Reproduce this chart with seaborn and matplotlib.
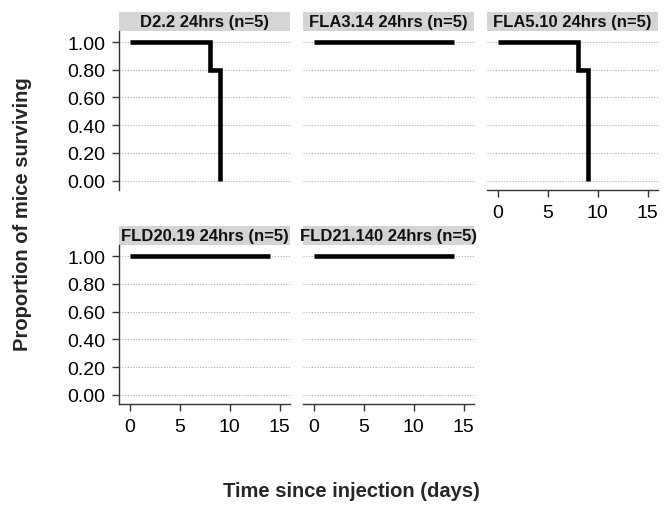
import numpy as np
import pandas as pd
import matplotlib
matplotlib.use("Agg")
import matplotlib.pyplot as plt
import seaborn as sns
from matplotlib.patches import Rectangle

# ---- data ----
panels = ["D2.2 24hrs (n=5)", "FLA3.14 24hrs (n=5)", "FLA5.10 24hrs (n=5)",
          "FLD20.19 24hrs (n=5)", "FLD21.140 24hrs (n=5)"]
d22_days = [0, 8, 9]
d22_surv = [1.0, 0.8, 0.0]
fla314_days = [0, 14]
fla314_surv = [1.0, 1.0]
fla510_days = [0, 8, 9]
fla510_surv = [1.0, 0.8, 0.0]
fld2019_days = [0, 14]
fld2019_surv = [1.0, 1.0]
fld21140_days = [0, 14]
fld21140_surv = [1.0, 1.0]
y_ticks = [0.0, 0.2, 0.4, 0.6, 0.8, 1.0]
y_ticklabels = ["0.00", "0.20", "0.40", "0.60", "0.80", "1.00"]
x_ticks = [0, 5, 10, 15]

series = [(d22_days, d22_surv), (fla314_days, fla314_surv), (fla510_days, fla510_surv),
          (fld2019_days, fld2019_surv), (fld21140_days, fld21140_surv)]
rows = []
for name, (days, surv) in zip(panels, series):
    for d, s in zip(days, surv):
        rows.append({"panel": name, "day": d, "surv": s})
df = pd.DataFrame(rows)

sns.set_theme(style="white")
plt.rcParams["font.family"] = ["Liberation Sans", "DejaVu Sans"]

g = sns.FacetGrid(df, col="panel", col_wrap=3, col_order=panels,
                  sharex=True, sharey=True, height=2, aspect=1, despine=False)
g.map_dataframe(sns.lineplot, x="day", y="surv", color="black", linewidth=3.3,
                drawstyle="steps-post", estimator=None, solid_capstyle="butt",
                solid_joinstyle="miter")

fig = g.figure
fig.set_size_inches(6.69, 5.06)
fig.subplots_adjust(left=0.178, right=0.9836, top=0.9368, bottom=0.2,
                    wspace=0.076, hspace=0.35)
g.set_titles("")
g.set_axis_labels("", "")

axes = g.axes.flatten()
for i, ax in enumerate(axes):
    ax.set_xlim(-1.05, 16.05)
    ax.set_ylim(-0.065, 1.08)
    for y in y_ticks:
        ax.axhline(y, color="#b0b0b0", linestyle=(0, (1, 1.5)), linewidth=0.8, zorder=0)
    ax.set_yticks(y_ticks)
    ax.set_xticks(x_ticks)
    for sp in ["top", "right"]:
        ax.spines[sp].set_visible(False)
    left = i in (0, 3)
    bottom = i in (2, 3, 4)
    ax.spines["left"].set_visible(left)
    ax.spines["bottom"].set_visible(bottom)
    for sp in ["left", "bottom"]:
        ax.spines[sp].set_color("#333333")
        ax.spines[sp].set_linewidth(1.0)
    ax.tick_params(axis="y", left=left, labelleft=left, length=5, width=1,
                   pad=5, labelsize=14, color="#333333", labelcolor="black",
                   direction="out")
    ax.tick_params(axis="x", bottom=bottom, labelbottom=bottom, length=5, width=1,
                   pad=5, labelsize=14, color="#333333", labelcolor="black",
                   direction="out")
    if left:
        ax.set_yticklabels(y_ticklabels)
    # strip
    ax.add_patch(Rectangle((0, 1.0), 1.0, 0.12, transform=ax.transAxes,
                           facecolor="#d4d4d4", edgecolor="none", clip_on=False))
    ax.text(0.5, 1.06, panels[i], transform=ax.transAxes, ha="center", va="center",
            fontsize=12, fontweight="bold", color="#111111")

fig.text(0.033, 0.577, "Proportion of mice surviving", rotation=90, ha="center",
         va="center", fontsize=14.5, fontweight="bold")
fig.text(0.525, 0.028, "Time since injection (days)", ha="center", va="center",
         fontsize=14.5, fontweight="bold")

fig.savefig("out.png", dpi=100)
